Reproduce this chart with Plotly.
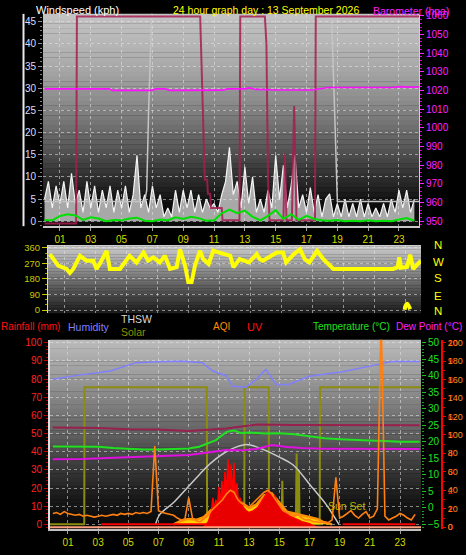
import plotly.graph_objects as go

W, H = 466, 555
FONT = "Liberation Sans, Arial, sans-serif"


def px(x):
    return x / W


def py(y):
    return 1 - y / H


# ---------------- DATA ----------------
odd_hours = [1, 3, 5, 7, 9, 11, 13, 15, 17, 19, 21, 23]
hour_labels = ["01", "03", "05", "07", "09", "11", "13", "15", "17", "19", "21", "23"]

# top panel -- wind speed gusts (kph), 15-minute samples from 00:00 to 24:00
gust_hours = [i * 0.25 for i in range(97)]
gust_kph = [5, 9, 3, 8, 4, 9, 3, 10.8, 4, 7, 2, 9, 3, 8, 2, 7, 3, 8, 2, 7,
            3, 8, 2, 6, 14.9, 3, 6, 2, 8, 3, 6, 1, 3, 1, 7, 2, 7, 3, 7, 2,
            6, 2, 5, 3, 4, 2, 6, 9, 16.7, 6, 9, 3, 12.3, 4, 10, 2, 5, 2, 7, 3,
            14.9, 5, 12.6, 3, 8, 14.9, 3, 6, 2, 7.6, 2, 6, 1, 5, 6.2, 1, 4, 1, 5, 1,
            4, 1, 5, 1, 4, 1, 3, 1, 4, 1, 5, 2, 7, 3, 7, 2, 5]
# average wind speed (kph), half-hourly
avg_hours = [i * 0.5 for i in range(49)]
avg_kph = [0.3, 0.2, 1.2, 1.6, 1.3, 0.3, 0.9, 0.6, 0.0, 0.3, 0.2, 0.6, 0.8, 0.1, 0.0, 0.4,
           0.2, 0.9, 0.5, 1.0, 0.7, 0.1, 0.2, 1.8, 2.6, 1.8, 2.4, 1.0, 0.2, 1.2, 2.5, 0.5,
           1.6, 0.3, 1.2, 0.5, 0.2, 0.1, 0.3, 0.0, 0.1, 0.0, 0.2, 0.0, 0.1, 0.0, 0.4, 0.7, 0.1]
# barometer (hPa)
baro_hours = [0.0, 4.2, 4.4, 6.9, 7.3, 7.8, 8.1, 11.5, 11.9, 13.0, 13.3, 13.7, 15.2, 17.4, 18.4, 22.6, 23.1, 23.6, 24.3]
baro_hpa = [1020.9, 1020.9, 1020.1, 1020.1, 1020.9, 1020.9, 1020.1, 1020.2, 1020.9, 1020.9, 1021.4, 1020.6,
            1020.3, 1020.3, 1021.6, 1021.6, 1022.1, 1021.8, 1021.9]
# crimson status trace (plotted on the wind-speed scale)
crim_hours = [0.0, 2.05, 2.1, 10.1, 10.4, 10.55, 10.6, 10.75, 10.8, 11.5, 11.55, 12.65, 12.7, 14.3, 14.4,
              14.5, 14.6, 15.5, 15.6, 15.7, 16.05, 16.2, 16.35, 17.55, 17.6, 24.3]
crim_vals = [-0.5, -0.5, 46.2, 46.2, 9.4, 9.4, 6.2, 6.2, 3.0, 3.0, 0.2, 0.2, 46.2, 46.2, 40.0,
             9.6, 0.2, 0.2, 15.2, 0.2, 0.2, 26.0, 0.2, 0.2, 46.2, 46.2]
# light grey trace (wind-speed scale)
grey_hours = [0.0, 6.5, 6.63, 6.75, 6.95, 7.2, 18.5, 18.7, 18.85, 19.0, 24.3]
grey_vals = [4.45, 4.45, 7.0, 24.5, 46.5, 60, 60, 40, 22, 4.45, 4.45]

# middle panel -- wind direction (degrees)
wd_hours = [0.06, 0.3, 0.6, 1.14, 1.35, 1.57, 2.0, 2.43, 2.86, 3.07, 3.29, 3.72, 3.93, 4.58, 5.2, 5.65,
            6.1, 6.4, 6.73, 7.15, 7.48, 7.81, 8.24, 8.45, 8.78, 8.99, 9.2, 9.42, 9.74, 9.95, 10.3,
            10.6, 11.03, 11.7, 11.9, 12.3, 12.9, 13.4, 13.6, 13.8, 14.7, 15.1, 15.3, 15.8, 16.2,
            16.5, 16.8, 17.3, 17.7, 18.35, 19.4, 20.5, 22.2, 22.5, 22.6, 22.7, 23.1, 23.3, 23.5, 24.0]
wd_deg = [324, 295, 257, 238, 215, 238, 314, 286, 286, 238, 269, 343, 238, 238, 314, 276,
          333, 286, 305, 276, 314, 238, 248, 352, 257, 162, 162, 257, 343, 295, 267,
          343, 333, 314, 248, 295, 276, 324, 295, 286, 333, 333, 276, 324, 352,
          295, 276, 343, 295, 238, 238, 238, 238, 248, 305, 245, 250, 320, 238, 286]
wd2_hours = [22.95, 23.0, 23.1, 23.2, 23.3]
wd2_deg = [2, 25, 36, 25, 5]

# bottom panel
hum_hours = [0, 1.6, 3.8, 5.5, 7, 8.6, 9.9, 10.6, 11.5, 11.9, 12.8, 13.5, 14.1, 14.8, 15.6, 17.0, 19.2, 21.4, 22.5, 24.3]
hum_pct = [79.9, 82, 84.4, 89, 89.5, 89.8, 89.0, 84.4, 81.7, 76, 75.5, 80, 85.3, 77, 77, 81.5, 84, 88, 89.7, 89.7]
temp_hours = [0, 1, 2, 3, 4, 5, 6, 7, 8, 9, 9.7, 10.8, 11.5, 12, 12.5, 13, 14, 15, 16, 17, 18, 19, 20, 21, 22, 23, 24.3]
temp_c = [18.6, 18.6, 18.5, 18.5, 18.1, 17.8, 17.7, 17.7, 17.8, 18.0, 18.5, 20.5, 23.0, 23.4, 22.6, 22.8,
          22.5, 22.6, 22.3, 21.6, 21.1, 20.8, 20.5, 20.4, 20.2, 20.0, 20.0]
dew_hours = [0, 2, 4, 6, 8, 9, 10, 11, 11.5, 12.5, 13.5, 14.5, 15.5, 16.5, 18, 20, 22, 24.3]
dew_c = [14.7, 14.8, 15.2, 15.5, 15.7, 16.0, 16.6, 17.2, 17.5, 17.4, 17.8, 19.0, 18.4, 18.1, 17.9, 17.9, 17.8, 17.8]
indoor_hours = [0, 3, 5, 7, 9, 10, 11, 11.5, 12.5, 13.5, 16, 20, 24.3]
indoor_c = [24.3, 24.2, 23.8, 23.7, 23.3, 23.5, 23.8, 24.0, 24.6, 25.2, 25.1, 25.0, 25.0]
solar_step_hours = [-0.2, 2.08, 2.1, 10.2, 10.22, 12.68, 12.7, 14.3, 14.32, 17.68, 17.7, 24.4]
solar_step_vals = [0, 0, 75.5, 75.5, 0, 0, 75.5, 75.5, 0, 0, 75.5, 75.5]
solar_spike_hours = [15.15, 15.2, 15.25, 16.1, 16.15, 16.2, 16.25, 16.3, 16.35]
solar_spike_vals = [0, 24, 0, 0, 39, 0, 0, 30, 0]
thsw_hours = [6.8, 7.1, 8.0, 9.0, 9.7, 10.5, 11.7, 12.8, 14.0, 15.0, 15.9, 17.2, 18.1, 18.95]
thsw_vals = [0, 5.6, 12, 21, 27.3, 34, 40.9, 44, 41, 37, 32.8, 20.1, 11, 0]
yel_hours = [8.0, 8.5, 9.0, 9.5, 10.0, 10.5, 11.0, 11.5, 12.0, 12.5, 13.0, 13.5, 14.0, 14.5, 15.0,
             15.5, 16.0, 16.5, 17.0, 17.5, 18.0, 18.5]
yel_vals = [0, 2, 3, 2.5, 4, 8, 12, 14, 16, 12, 9, 11, 16, 17, 12, 7, 6, 5, 4, 3, 1, 0]
uv_hours = [10.0, 10.3, 10.5, 10.6, 10.7, 10.8, 10.9, 11.0, 11.1, 11.2, 11.3, 11.4, 11.5, 11.6, 11.7,
            11.8, 11.9, 12.0, 12.1, 12.2, 12.3, 12.4, 12.6, 12.8, 13.0, 13.3, 13.6, 13.9, 14.1, 14.3,
            14.5, 14.7, 14.9, 15.1, 15.4, 15.7, 16.0, 16.5, 17.0, 17.5]
uv_index = [0, 0.3, 0.8, 1.6, 0.9, 1.5, 1.0, 2.2, 1.2, 2.5, 1.4, 3.0, 1.8, 3.7, 2.2,
            3.4, 1.6, 3.5, 1.5, 2.4, 1.2, 1.6, 1.1, 0.9, 0.8, 0.9, 1.1, 1.5, 1.8, 2.0,
            1.7, 1.7, 1.3, 1.0, 0.8, 0.6, 0.5, 0.3, 0.2, 0]
aqi_hours = [i * 0.25 for i in range(97)]
aqi_vals = [15, 16, 14, 17, 15, 14, 13, 14, 12, 13, 12, 11, 12, 13, 12, 13, 14, 13, 15, 14,
            15, 14, 16, 15, 16, 15, 17, 88, 18, 16, 15, 14, 13, 10, 8, 9, 32, 10, 7, 6,
            9, 12, 18, 22, 26, 30, 36, 40, 38, 30, 26, 24, 22, 26, 30, 34, 38, 40, 36, 30,
            24, 18, 16, 14, 12, 14, 10, 8, 8, 6, 6, 5, 6, 5, 8, 54, 10, 12, 15, 18,
            13, 10, 14, 17, 10, 12, 20, 230, 12, 8, 10, 12, 15, 13, 10, 8, 14]
rain_hours = [3.2, 13.5, 13.7, 13.9, 16.4, 17.8, 19.2, 24.0]
rain_mm = [0, 0, None, 0, 0, None, 0, 0]
base_hours = [-0.2, 24.4]
base_uv = [0, 0]

# ---------------- FIGURE ----------------
fig = go.Figure()

# top panel
fig.add_trace(go.Scatter(x=gust_hours, y=gust_kph, xaxis="x", yaxis="y", mode="lines",
                         line=dict(color="#f4f4f4", width=1.2), fill="tozeroy",
                         fillcolor="rgba(235,235,235,0.7)"))
fig.add_trace(go.Scatter(x=grey_hours, y=grey_vals, xaxis="x", yaxis="y", mode="lines",
                         line=dict(color="#c4c4c4", width=1.5)))
fig.add_trace(go.Scatter(x=crim_hours, y=crim_vals, xaxis="x", yaxis="y", mode="lines",
                         line=dict(color="rgba(165,30,80,0.85)", width=2)))
fig.add_trace(go.Scatter(x=avg_hours, y=avg_kph, xaxis="x", yaxis="y", mode="lines",
                         line=dict(color="#00e000", width=2)))
fig.add_trace(go.Scatter(x=baro_hours, y=baro_hpa, xaxis="x", yaxis="y2", mode="lines",
                         line=dict(color="#ff10ff", width=1.6)))

# middle panel
fig.add_trace(go.Scatter(x=wd_hours, y=wd_deg, xaxis="x2", yaxis="y5", mode="lines",
                         line=dict(color="#ffff00", width=4)))
fig.add_trace(go.Scatter(x=wd2_hours, y=wd2_deg, xaxis="x2", yaxis="y5", mode="lines",
                         line=dict(color="#ffff00", width=4, shape="spline")))

# bottom panel
fig.add_trace(go.Scatter(x=solar_step_hours, y=solar_step_vals, xaxis="x3", yaxis="y6", mode="lines",
                         line=dict(color="#8c8c10", width=2)))
fig.add_trace(go.Scatter(x=solar_spike_hours, y=solar_spike_vals, xaxis="x3", yaxis="y6", mode="lines",
                         line=dict(color="#8c8c10", width=2)))
fig.add_trace(go.Scatter(x=thsw_hours, y=thsw_vals, xaxis="x3", yaxis="y6", mode="lines",
                         line=dict(color="#c8c8c8", width=1.5, shape="spline")))
fig.add_trace(go.Scatter(x=hum_hours, y=hum_pct, xaxis="x3", yaxis="y6", mode="lines",
                         line=dict(color="#8080ff", width=1.5)))
fig.add_trace(go.Scatter(x=indoor_hours, y=indoor_c, xaxis="x3", yaxis="y8", mode="lines",
                         line=dict(color="#98204c", width=2)))
fig.add_trace(go.Scatter(x=temp_hours, y=temp_c, xaxis="x3", yaxis="y8", mode="lines",
                         line=dict(color="#20e020", width=2)))
fig.add_trace(go.Scatter(x=dew_hours, y=dew_c, xaxis="x3", yaxis="y8", mode="lines",
                         line=dict(color="#e010e0", width=2)))
fig.add_trace(go.Scatter(x=uv_hours, y=uv_index, xaxis="x3", yaxis="y9", mode="lines",
                         line=dict(color="#ff0000", width=1.5), fill="tozeroy", fillcolor="#e80000"))
fig.add_trace(go.Scatter(x=yel_hours, y=yel_vals, xaxis="x3", yaxis="y6", mode="lines",
                         line=dict(color="#ff9000", width=2.5), fill="tozeroy", fillcolor="#ffd000"))
fig.add_trace(go.Scatter(x=aqi_hours, y=aqi_vals, xaxis="x3", yaxis="y10", mode="lines",
                         line=dict(color="#ff8010", width=1.6)))
fig.add_trace(go.Scatter(x=base_hours, y=base_uv, xaxis="x3", yaxis="y9", mode="lines",
                         line=dict(color="#ffa080", width=2)))
fig.add_trace(go.Scatter(x=rain_hours, y=rain_mm, xaxis="x3", yaxis="y6", mode="lines",
                         line=dict(color="#ff0000", width=2)))


# ---------------- BACKGROUND GRADIENTS ----------------
def interp(stops, f):
    for (f0, c0), (f1, c1) in zip(stops[:-1], stops[1:]):
        if f0 <= f <= f1:
            t = (f - f0) / (f1 - f0) if f1 > f0 else 0
            c = [round(a + (b - a) * t) for a, b in zip(c0, c1)]
            return "rgb(%d,%d,%d)" % tuple(c)
    return "rgb(%d,%d,%d)" % tuple(stops[-1][1])


def grad(x0, x1, y0, y1, stops, n=44):
    out = []
    for i in range(n):
        f = (i + 0.5) / n
        ya = y0 + (y1 - y0) * i / n
        yb = y0 + (y1 - y0) * (i + 1) / n
        out.append(dict(type="rect", xref="paper", yref="paper", x0=px(x0), x1=px(x1),
                        y0=py(yb + 0.3), y1=py(ya), fillcolor=interp(stops, f),
                        line=dict(width=0), layer="below"))
    return out


shapes = []
shapes += grad(43, 419, 10, 225, [(0, (196, 196, 196)), (0.23, (172, 172, 172)), (0.42, (138, 138, 138)),
                                  (0.6, (96, 96, 96)), (0.77, (46, 46, 46)), (0.91, (10, 10, 10)),
                                  (1.0, (14, 14, 14))])
shapes += grad(48, 421, 244, 313, [(0, (205, 205, 205)), (0.3, (155, 155, 155)), (0.6, (95, 95, 95)),
                                   (1.0, (28, 28, 28))])
shapes += grad(50, 421, 340, 532, [(0, (188, 188, 188)), (0.21, (152, 152, 152)), (0.47, (102, 102, 102)),
                                   (0.68, (56, 56, 56)), (0.83, (26, 26, 26)), (1.0, (6, 6, 6))])
# white scale bar beside the crimson scale
shapes.append(dict(type="line", xref="paper", yref="paper", x0=px(23.5), x1=px(23.5),
                   y0=py(225), y1=py(10), line=dict(color="#e8e8e8", width=2)))

# ---------------- AXES ----------------
grid = dict(showgrid=True, gridcolor="rgba(230,230,230,0.55)", griddash="dot", gridwidth=1)
tf = lambda c, s=10: dict(color=c, size=s, family=FONT)

layout = dict(
    width=W, height=H, margin=dict(l=0, r=0, t=0, b=0),
    paper_bgcolor="#000000", plot_bgcolor="rgba(0,0,0,0)",
    showlegend=False, hovermode=False, shapes=shapes,
    font=dict(family=FONT),
    xaxis=dict(domain=[px(43), px(419)], range=[-0.1, 24.3], anchor="y", tickmode="array",
               tickvals=odd_hours, ticktext=hour_labels, tickfont=tf("#d8d800"), ticks="outside",
               ticklen=3, tickcolor="#a0a0a0", showline=True, linecolor="#c8c8c8", linewidth=2,
               zeroline=False, **grid),
    yaxis=dict(domain=[py(225), py(10)], range=[-1.11, 46.78], anchor="x", tickmode="array",
               tickvals=list(range(0, 50, 5)), tickfont=tf("#d4deff"), ticks="outside", ticklen=4,
               tickcolor="#909090", zeroline=False, showline=False,
               minor=dict(ticks="outside", ticklen=2, tickcolor="#808080", dtick=1), **grid),
    yaxis2=dict(overlaying="y", side="right", anchor="x", range=[947.36, 1061.06], tickmode="array",
                tickvals=list(range(950, 1061, 10)), tickfont=tf("#ff20ff"), ticks="outside", ticklen=4,
                tickcolor="#ff20ff", showgrid=False, zeroline=False, showline=True, linecolor="#d0d0d0",
                minor=dict(ticks="outside", ticklen=2, tickcolor="#d000d0", dtick=2)),
    yaxis3=dict(overlaying="y", anchor="free", position=px(20.5), side="left", range=[-0.362, 15.22],
                tickmode="array", tickvals=list(range(0, 16)), tickfont=tf("#c8285a"), ticks="outside",
                ticklen=3, tickcolor="#c02050", showline=True, linecolor="#a01844", linewidth=3,
                showgrid=False, zeroline=False),
    yaxis4=dict(overlaying="y", anchor="free", position=px(20.5), side="left", range=[-6.33, 50.85],
                tickmode="array", tickvals=list(range(-5, 51, 5)), tickfont=tf("#b4bcff"),
                ticks="outside", ticklen=3, tickcolor="rgba(0,0,0,0)", showline=False,
                showgrid=False, zeroline=False),
    xaxis2=dict(domain=[px(48), px(421)], range=[-0.06, 24.0], anchor="y5", tickmode="array",
                tickvals=odd_hours, showticklabels=False, ticks="", showline=False, zeroline=False, **grid),
    yaxis5=dict(domain=[py(313), py(244)], range=[-17.1, 377.1], anchor="x2", tickmode="array",
                tickvals=[0, 90, 180, 270, 360], tickfont=tf("#c8c800", 9.5), ticks="outside", ticklen=5,
                tickcolor="#c8c800", zeroline=False, showline=True, linecolor="#d8d8d8",
                minor=dict(ticks="outside", ticklen=2, tickcolor="#a0a000", dtick=30), **grid),
    xaxis3=dict(domain=[px(50), px(421)], range=[-0.19, 24.39], anchor="y6", tickmode="array",
                tickvals=odd_hours, ticktext=hour_labels, tickfont=tf("#d8d800"), ticks="outside",
                ticklen=3, tickcolor="#a0a0a0", showline=True, linecolor="#c0c0c0", linewidth=2,
                zeroline=False, **grid),
    yaxis6=dict(domain=[py(532), py(340)], range=[-2.72, 101.63], anchor="x3", tickmode="array",
                tickvals=list(range(0, 101, 10)), tickfont=tf("#ff2020"), ticks="outside", ticklen=4,
                tickcolor="#c00000", zeroline=False, showline=True, linecolor="#e0e0e0", linewidth=2,
                minor=dict(ticks="outside", ticklen=2, tickcolor="#b00000", dtick=2), **grid),
    yaxis7=dict(overlaying="y6", anchor="free", position=px(30), side="left", range=[-2.72, 101.63],
                tickmode="array", tickvals=list(range(0, 101, 10)), tickfont=tf("#7474ff"), ticks="outside",
                ticklen=4, tickcolor="#7070ff", showline=True, linecolor="#6c6cff", linewidth=3,
                showgrid=False, zeroline=False,
                minor=dict(ticks="outside", ticklen=2, tickcolor="#6060e0", dtick=2)),
    yaxis8=dict(overlaying="y6", side="right", anchor="x3", range=[-6.49, 50.9], tickmode="array",
                tickvals=list(range(-5, 51, 5)), tickfont=tf("#20e020"), ticks="outside", ticklen=4,
                tickcolor="#20c020", showgrid=False, zeroline=False, showline=False,
                minor=dict(ticks="outside", ticklen=2, tickcolor="#20a020", dtick=1)),
    yaxis9=dict(overlaying="y6", anchor="free", position=px(442), side="right", range=[-0.107, 10.16],
                tickmode="array", tickvals=list(range(0, 11)), tickfont=tf("#ff1010", 9), ticks="outside",
                ticklen=3, tickcolor="#ff0000", showline=True, linecolor="#ff0000", linewidth=2,
                showgrid=False, zeroline=False,
                minor=dict(ticks="outside", ticklen=2, tickcolor="#d00000", dtick=0.5)),
    yaxis10=dict(overlaying="y6", anchor="free", position=px(442), side="right", range=[-2.14, 202.9],
                 tickmode="array", tickvals=list(range(0, 201, 20)), tickfont=tf("#ff8c20", 9), ticks="outside",
                 ticklen=3, tickcolor="rgba(0,0,0,0)", showline=False, showgrid=False, zeroline=False),
)


def txt(s, x, y, color, size=10.5, anchor="left"):
    return dict(text=s, x=px(x), y=py(y), xref="paper", yref="paper", xanchor=anchor, yanchor="middle",
                showarrow=False, font=dict(color=color, size=size, family=FONT))


layout["annotations"] = [
    txt("Windspeed (kph)", 34, 6, "#ffffff", 11),
    txt("24 hour graph day : 13 September 2026", 171, 6, "#ffff00", 10.5),
    txt("Barometer (hpa)", 371, 7, "#ff20ff", 10.5),
    txt("N", 438, 244, "#ffff00", 11.5, "center"),
    txt("W", 438, 261, "#ffff00", 11.5, "center"),
    txt("S", 438, 278, "#ffff00", 11.5, "center"),
    txt("E", 438, 296, "#ffff00", 11.5, "center"),
    txt("N", 438, 311, "#ffff00", 11.5, "center"),
    txt("Rainfall (mm)", -1, 327, "#ff1010", 10),
    txt("Humidity", 66, 327, "#8080ff", 10.5),
    txt("THSW", 119, 319, "#d8d8d8", 10.5),
    txt("Solar", 119, 332, "#909000", 10.5),
    txt("AQI", 211, 327, "#ff8c00", 10),
    txt("UV", 245, 327, "#ff1010", 11),
    txt("Temperature (°C)", 311, 327, "#20e020", 10),
    txt("Dew Point (°C)", 394, 327, "#ff20ff", 10),
    txt("Sun Set", 326, 508, "#b8b800", 10.5),
]

fig.update_layout(**layout)
fig.write_html("out.html", config={"displayModeBar": False, "staticPlot": True},
               post_script="document.body.style.margin='0';document.body.style.padding='0';")
